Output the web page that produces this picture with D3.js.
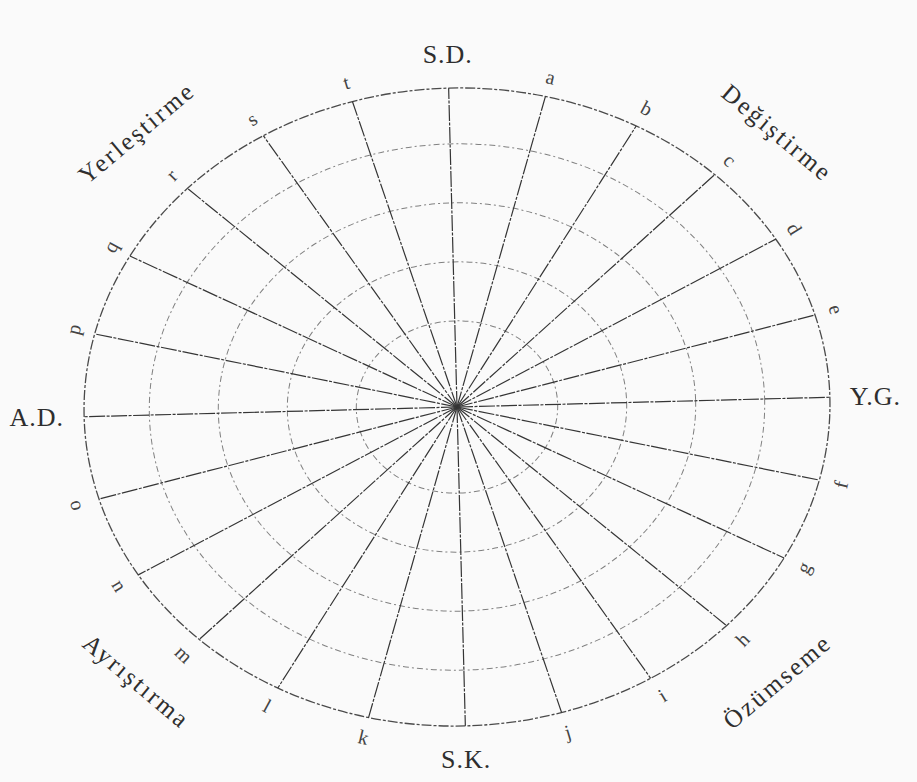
<!DOCTYPE html>
<html lang="tr">
<head>
<meta charset="utf-8">
<title>Polar grid</title>
<style>
    body { margin: 0; background: #fafafa; }
    text { font-family: "Liberation Serif", "DejaVu Serif", serif; fill: #2e2e2e; }
</style>
</head>
<body>
<script src="https://d3js.org/d3.v7.min.js"></script>
<script>
    // 24 spokes, clockwise from the top
    var axisLabels = ["S.D.", "a", "b", "c", "d", "e",
        "Y.G.", "f", "g", "h", "i", "j",
        "S.K.", "k", "l", "m", "n", "o",
        "A.D.", "p", "q", "r", "s", "t"];
    var majorLabels = ["S.D.", "Y.G.", "S.K.", "A.D."];
    var ringLevels = [0.27, 0.455, 0.64, 0.825, 1];
    var quadrantLabels = ["Değiştirme", "Özümseme", "Ayrıştırma", "Yerleştirme"];
    var quadrantAngles = [45, 135, 225, 315];

    var width = 917, height = 782,
        cx = 457, cy = 407,
        rx = 373, ry = 319,
        tilt = -1.5;

    var svg = d3.select("body").append("svg")
        .attr("width", width)
        .attr("height", height);

    svg.append("rect")
        .attr("width", width)
        .attr("height", height)
        .attr("fill", "#fafafa");

    // the scanned sheet sits slightly turned
    var g = svg.append("g")
        .attr("transform", "translate(" + cx + "," + cy + ") rotate(" + tilt + ")");

    var angle = d3.scaleLinear().domain([0, axisLabels.length]).range([0, 2 * Math.PI]);
    var xr = d3.scaleLinear().domain([0, 1]).range([0, rx]);
    var yr = d3.scaleLinear().domain([0, 1]).range([0, ry]);

    function px(i, level, extra) { return (xr(level) + extra) * Math.sin(angle(i)); }
    function py(i, level, extra) { return -(yr(level) + extra) * Math.cos(angle(i)); }

    // rings
    g.selectAll(".ring")
        .data(ringLevels)
        .enter()
        .append("ellipse")
        .attr("class", "ring")
        .attr("rx", function (d) { return xr(d); })
        .attr("ry", function (d) { return yr(d); })
        .attr("fill", "none")
        .attr("stroke", function (d) { return d === 1 ? "#4a4a4a" : "#808080"; })
        .attr("stroke-width", function (d) { return d === 1 ? 1.3 : 1; })
        .attr("stroke-dasharray", function (d) { return d === 1 ? "10,2,3,2" : "6,3,2,3"; });

    // spokes
    g.selectAll(".spoke")
        .data(axisLabels)
        .enter()
        .append("line")
        .attr("class", "spoke")
        .attr("x1", 0)
        .attr("y1", 0)
        .attr("x2", function (d, i) { return px(i, 1, 0); })
        .attr("y2", function (d, i) { return py(i, 1, 0); })
        .attr("stroke", "#353535")
        .attr("stroke-width", 1.2)
        .attr("stroke-dasharray", "16,1.5,3,1.5");

    var items = axisLabels.map(function (d, i) { return {text: d, i: i}; });

    // small letters round the rim
    g.selectAll(".letter")
        .data(items.filter(function (d) { return majorLabels.indexOf(d.text) < 0; }))
        .enter()
        .append("text")
        .attr("class", "letter")
        .attr("transform", function (d) {
            var deg = angle(d.i) * 180 / Math.PI;
            var rot = (deg > 90 && deg < 270) ? deg - 180 : deg;
            return "translate(" + px(d.i, 1, 22) + "," + py(d.i, 1, 20) + ") rotate(" + rot + ")";
        })
        .attr("text-anchor", "middle")
        .attr("dominant-baseline", "central")
        .style("font-size", "20px")
        .style("fill", "#444")
        .text(function (d) { return d.text; });

    // main axis labels, kept level
    g.selectAll(".major")
        .data(items.filter(function (d) { return majorLabels.indexOf(d.text) >= 0; }))
        .enter()
        .append("text")
        .attr("class", "major")
        .attr("transform", function (d) {
            return "translate(" + px(d.i, 1, 20) + "," + py(d.i, 1, 34) + ") rotate(" + (-tilt) + ")";
        })
        .attr("text-anchor", function (d) {
            var s = Math.round(Math.sin(angle(d.i)));
            return s > 0 ? "start" : (s < 0 ? "end" : "middle");
        })
        .attr("dominant-baseline", "central")
        .style("font-size", "26px")
        .style("letter-spacing", "1px")
        .text(function (d) { return d.text; });

    // quadrant names
    var outer = svg.append("g").attr("transform", "translate(" + cx + "," + cy + ")");
    outer.selectAll(".quad")
        .data(quadrantLabels)
        .enter()
        .append("text")
        .attr("class", "quad")
        .attr("transform", function (d, i) {
            var a = quadrantAngles[i] * Math.PI / 180;
            var x = (rx + 80) * Math.sin(a), y = -(ry + 69) * Math.cos(a);
            var rot = (Math.sin(a) * Math.cos(a) > 0) ? 40 : -40;
            return "translate(" + x + "," + y + ") rotate(" + rot + ")";
        })
        .attr("text-anchor", "middle")
        .attr("dominant-baseline", "central")
        .style("font-size", "25px")
        .style("letter-spacing", "2.5px")
        .text(function (d) { return d; });
</script>
</body>
</html>
